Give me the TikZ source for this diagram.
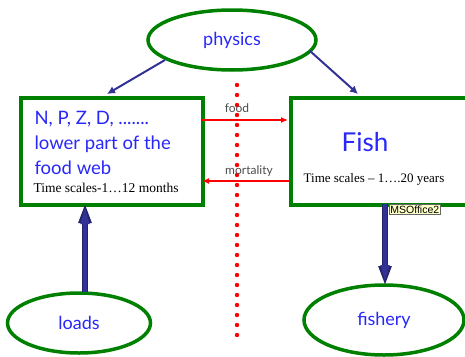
\documentclass[tikz,border=0pt]{standalone}
\usepackage{fontspec}
\setmainfont{Liberation Serif}
\newfontfamily\handfont{Lato}
\newfontfamily\labfont{Liberation Sans}
\usetikzlibrary{shapes.geometric,arrows.meta}
\definecolor{boxgreen}{RGB}{0,128,0}
\definecolor{txtblue}{RGB}{40,40,250}
\definecolor{arrblue}{RGB}{50,50,150}
\definecolor{notecol}{RGB}{255,255,200}
\tikzset{
  oval/.style={ellipse, draw=boxgreen, line width=3.5pt, fill=white, text=txtblue, font=\handfont\fontsize{18}{22}\selectfont, inner sep=0pt},
  bigbox/.style={draw=boxgreen, line width=3.5pt, fill=white, anchor=north west},
  thin/.style={draw=arrblue, line width=2pt, -{Latex[length=8pt,width=8pt]}},
  thick/.style={draw=arrblue!70!black, line width=6.5pt, -{Triangle[length=20pt,width=12pt]}},
  thickin/.style={draw=arrblue, line width=4pt, -{Triangle[length=18pt,width=8pt]}},
  redarr/.style={draw=red, line width=1.5pt, -{Latex[length=7pt,width=6pt]}},
  lab/.style={text=black!70, font=\handfont\fontsize{12}{12}\selectfont}
}
\begin{document}
\begin{tikzpicture}[x=1pt,y=-1pt]
\useasboundingbox (0,0) rectangle (465,356);
% dotted line
\foreach \k in {0,...,25} {\fill[red] (237,85+10*\k) circle (2.2pt);}
% boxes
\node[bigbox, minimum width=182pt, minimum height=107pt] (L) at (19,96) {};
\node[bigbox, minimum width=180pt, minimum height=107pt] (R) at (289,96) {};
\node[anchor=west, text=txtblue, font=\handfont\fontsize{18.5}{25}\selectfont, align=left] (Ltxt) at (31,143) {N, P, Z, D, .......\\lower part of the\\food web};
\node[anchor=west, font=\fontsize{13.5}{13.5}\selectfont] (Lts) at (30,188) {Time scales-1\dots12 months};
\node[text=txtblue, font=\handfont\fontsize{26}{26}\selectfont] (Ftxt) at (365,142) {Fish};
\node[font=\fontsize{13}{13}\selectfont] (Rts) at (374,179) {Time scales -- 1\dots.20 years};
% ellipses
\node[oval, minimum width=168pt, minimum height=60pt] (phys) at (232,40) {physics};
\node[oval, minimum width=143pt, minimum height=60pt] (loads) at (79,323) {loads};
\node[oval, minimum width=160pt, minimum height=70pt] (fish) at (384,320) {fishery};
% connectors
\coordinate (pl) at (165,60);
\coordinate (pr) at (310,51);
\draw[thin] (pl) -- (107,94);
\draw[thin] (pr) -- (358,94);
\draw[redarr] (201,120) -- (288,120);
\draw[redarr] (289,181) -- (202,181);
\node[lab] (food) at (237,108) {food};
\node[lab] (mort) at (249,171) {mortality};
\draw[thick] (85,292) -- (85,203);
\draw[thickin] (85,292) -- (85,206);
\draw[thick] (385,204) -- (385,286);
\draw[thickin] (385,204) -- (385,283);
\node[draw=black!60, fill=notecol, inner sep=1.2pt, font=\labfont\fontsize{10.5}{10.5}\selectfont, anchor=north west] (note) at (389,204) {MSOffice2};
\end{tikzpicture}
\end{document}
